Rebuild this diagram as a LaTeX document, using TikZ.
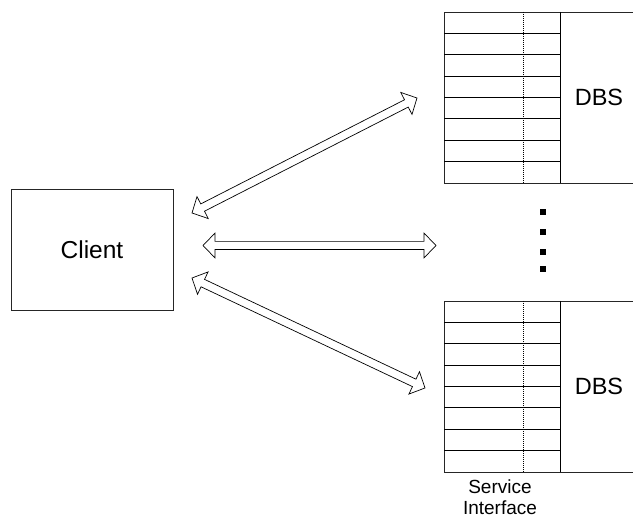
\documentclass[tikz,border=0pt]{standalone}
\usepackage{fontspec}
\setmainfont{Liberation Sans}
\usetikzlibrary{calc,shapes.arrows}
\tikzset{
  frame/.style={draw=black!85, line width=0.8pt},
  rowline/.style={draw=black, line width=0.9pt},
  sidots/.style={draw=black, line width=0.8pt, dash pattern=on 1pt off 1pt},
  hollowarrow/.style={draw=black, fill=white, double arrow, line width=0.7pt,
    inner xsep=0pt, inner ysep=3.75pt, double arrow head extend=8.25pt,
    double arrow tip angle=92},
  dotsq/.style={fill=black, minimum size=6pt, inner sep=0pt},
  lbl/.style={inner sep=0pt, align=center}
}
\newcommand\hollowlink[3]{%
  \path let \p1=($(#3)-(#2)$), \n1={veclen(\x1,\y1)}, \n2={atan2(\y1,\x1)} in
    node[hollowarrow, minimum height=\n1, rotate=\n2] (#1) at ($(#2)!0.5!(#3)$) {};}
\begin{document}
\begin{tikzpicture}[x=1pt,y=-1pt]
\useasboundingbox (0,0) rectangle (633,518);
% Client
\node[frame, minimum width=162pt, minimum height=121pt, inner sep=0pt] (client) at (92,249.5) {};
\node[lbl, font=\fontsize{24.5}{28}\selectfont] (clienttxt) at (client.center) {Client};
% DBS boxes
\foreach \t/\b/\n in {12/183/top, 301/472/bot}{
  \draw[frame] (640,\t) -- (444,\t) -- (444,\b) -- (640,\b);
  \draw[rowline] (560,\t) -- (560,\b);
  \foreach \k in {1,...,7}{
    \draw[rowline] (444,{\t+\k*(\b-\t)/8}) -- (560,{\t+\k*(\b-\t)/8});
  }
  \draw[sidots] (523,\t) -- (523,\b);
  \node[lbl, font=\fontsize{23.5}{27}\selectfont] (dbs\n) at (599,{(\t+\b)/2}) {DBS};
}
\node[lbl, font=\fontsize{19}{20.5}\selectfont] (si) at (500,497) {Service\\Interface};
% dots
\foreach \y [count=\i] in {211.7,231.7,251.7,269.3}{
  \node[dotsq] (dot\i) at (543,\y) {};
}
% arrow end points
\coordinate (a1) at (192,213);
\coordinate (b1) at (417,98);
\coordinate (a2) at (203,245.5);
\coordinate (b2) at (436,245.5);
\coordinate (a3) at (192,278);
\coordinate (b3) at (425,388);
\hollowlink{arr1}{a1}{b1}
\hollowlink{arr2}{a2}{b2}
\hollowlink{arr3}{a3}{b3}
\end{tikzpicture}
\end{document}
